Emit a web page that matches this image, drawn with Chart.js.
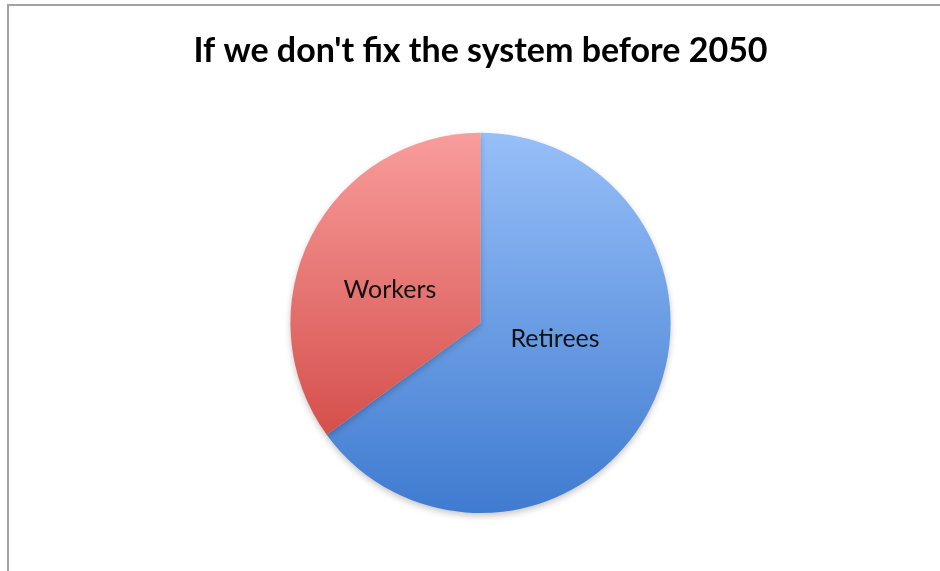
<!DOCTYPE html>
<html>
<head>
<meta charset="utf-8">
<script src="https://cdn.jsdelivr.net/npm/chart.js@4.4.0/dist/chart.umd.min.js"></script>
<style>
  html, body { margin: 0; padding: 0; background: #fff; }
  #wrap { width: 940px; height: 571px; position: relative; }
</style>
</head>
<body>
<div id="wrap"><canvas id="chart"></canvas></div>
<script>
const labels = ['Retirees', 'Workers'];
const shares = [65, 35];
const titleText = "If we don't fix the system before 2050";

// top/bottom colours of each slice's vertical gradient
const topColors = ['#97bff8', '#f89d9c'];
const bottomColors = ['#3f7bd0', '#cc3b37'];
// label position as fraction of radius from the centre
const labelOffsets = [[0.392, 0.084], [-0.476, -0.174]];

function sliceFill(ctx) {
  const chart = ctx.chart;
  const area = chart.chartArea;
  if (!area) return topColors[ctx.dataIndex];
  const g = chart.ctx.createLinearGradient(0, area.top, 0, area.bottom);
  g.addColorStop(0, topColors[ctx.dataIndex]);
  g.addColorStop(1, bottomColors[ctx.dataIndex]);
  return g;
}

const frame = {
  id: 'frame',
  beforeDraw(chart) {
    const c = chart.ctx;
    c.save();
    c.fillStyle = '#a3a3a3';
    c.fillRect(7, 4, chart.width - 7, 2);
    c.fillRect(7, 4, 2, chart.height - 4);
    c.restore();
  }
};

const shadow = {
  id: 'shadow',
  beforeDatasetsDraw(chart) {
    const c = chart.ctx;
    c.save();
    c.shadowColor = 'rgba(0,0,0,0.22)';
    c.shadowBlur = 6;
    c.shadowOffsetY = 3;
  },
  afterDatasetsDraw(chart) {
    chart.ctx.restore();
  }
};

const sliceLabels = {
  id: 'sliceLabels',
  afterDatasetsDraw(chart) {
    const c = chart.ctx;
    const meta = chart.getDatasetMeta(0);
    c.save();
    c.font = '25px Lato';
    c.fillStyle = '#111';
    c.textAlign = 'center';
    c.textBaseline = 'middle';
    meta.data.forEach((arc, i) => {
      const r = arc.outerRadius;
      c.fillText(labels[i], arc.x + labelOffsets[i][0] * r, arc.y + labelOffsets[i][1] * r);
    });
    c.restore();
  }
};

new Chart(document.getElementById('chart'), {
  type: 'pie',
  data: {
    labels: labels,
    datasets: [{
      data: shares,
      backgroundColor: sliceFill,
      borderWidth: 0
    }]
  },
  options: {
    responsive: true,
    maintainAspectRatio: false,
    animation: false,
    layout: { padding: { left: 21, right: 0, top: 0, bottom: 58 } },
    plugins: {
      legend: { display: false },
      tooltip: { enabled: false },
      title: {
        display: true,
        text: titleText,
        color: '#000',
        font: { family: 'Lato', size: 34, weight: 'bold', lineHeight: 1.2 },
        padding: { top: 31, bottom: 61 }
      }
    }
  },
  plugins: [frame, shadow, sliceLabels]
});
</script>
</body>
</html>
